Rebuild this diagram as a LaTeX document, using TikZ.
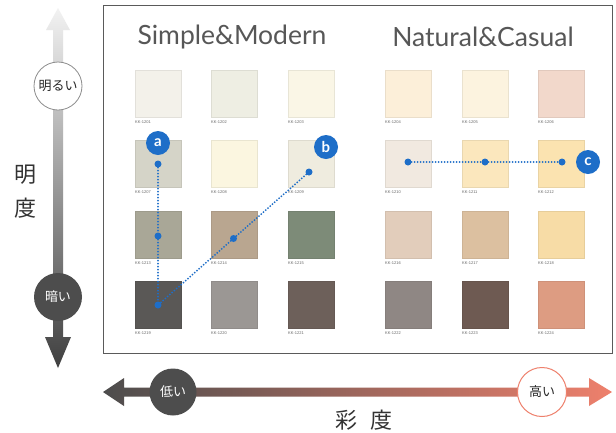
\documentclass[tikz,border=0pt]{standalone}
\usepackage{fontspec}
\setmainfont{Lato}
\newfontfamily\jp{Noto Sans CJK JP}
\newfontfamily\lblfont{Liberation Sans}
\usetikzlibrary{calc}
\definecolor{mblue}{HTML}{1E6EC8}
\definecolor{salmon}{HTML}{EE806C}
\definecolor{darkg}{HTML}{4D4D4D}
\definecolor{framec}{HTML}{5A5A5A}
\definecolor{c1201}{HTML}{F3F1EA}
\definecolor{c1202}{HTML}{EEEEE3}
\definecolor{c1203}{HTML}{FAF6E6}
\definecolor{c1207}{HTML}{D5D4C8}
\definecolor{c1208}{HTML}{FBF6E0}
\definecolor{c1209}{HTML}{EFECDF}
\definecolor{c1213}{HTML}{A9A797}
\definecolor{c1214}{HTML}{B9A690}
\definecolor{c1215}{HTML}{7D8B78}
\definecolor{c1219}{HTML}{5A5856}
\definecolor{c1220}{HTML}{9B9794}
\definecolor{c1221}{HTML}{6D605A}
\definecolor{c1204}{HTML}{FCEFD9}
\definecolor{c1205}{HTML}{FCF3DF}
\definecolor{c1206}{HTML}{F2D8CB}
\definecolor{c1210}{HTML}{F1E9E0}
\definecolor{c1211}{HTML}{FBE7BD}
\definecolor{c1212}{HTML}{FBE3B0}
\definecolor{c1216}{HTML}{E2CDBB}
\definecolor{c1217}{HTML}{DCC0A0}
\definecolor{c1218}{HTML}{F7DCA6}
\definecolor{c1222}{HTML}{8F8784}
\definecolor{c1223}{HTML}{6E5A52}
\definecolor{c1224}{HTML}{DD9C82}
\begin{document}
\begin{tikzpicture}[x=1pt,y=-1pt,
  swatch/.style={anchor=north west, minimum width=46pt, minimum height=47pt, inner sep=0pt, line width=0.4pt},
  lab/.style={anchor=west, inner sep=0pt, text=black!60, font=\lblfont\fontsize{4}{4}\selectfont},
  title/.style={text=black!66, font=\fontsize{26.5}{26.5}\selectfont},
  marker/.style={circle, fill=mblue, text=white, minimum size=24pt, inner sep=0pt, font=\bfseries\fontsize{15}{15}\selectfont},
  dot/.style={circle, fill=mblue, minimum size=7pt, inner sep=0pt},
  dline/.style={draw=mblue, line width=2pt, line cap=round, dash pattern=on 0pt off 3pt},
  axtext/.style={text=black!80, font=\jp\fontsize{22}{22}\selectfont},
  cirtext/.style={circle, inner sep=0pt, font=\jp\fontsize{13}{13}\selectfont}
]
\useasboundingbox (0,0) rectangle (616,432);
\fill[white] (0,0) rectangle (616,432);

% frame
\node[draw=framec, line width=1.2pt, anchor=north west, minimum width=509pt, minimum height=348pt, inner sep=0pt] (frame) at (103,5) {};

% titles
\node[title] (t1) at (232,37) {Simple\&Modern};
\node[title] (t2) at (483,37) {Natural\&Casual};

% swatches
\foreach \x/\y/\n in {135/70/1201, 211/70/1202, 288/70/1203,
                      135/140/1207, 211/140/1208, 288/140/1209,
                      135/211/1213, 211/211/1214, 288/211/1215,
                      135/281/1219, 211/281/1220, 288/281/1221,
                      385/70/1204, 462/70/1205, 538/70/1206,
                      385/140/1210, 462/140/1211, 538/140/1212,
                      385/211/1216, 462/211/1217, 538/211/1218,
                      385/281/1222, 462/281/1223, 538/281/1224}{
  \node[swatch, fill=c\n, draw=c\n!93!black] (s\n) at (\x,\y) {};
  \node[lab] (l\n) at ($(s\n.south west)+(0,5)$) {KK-\n};
}

% markers and dots
\node[dot] (a0) at (158,164) {};
\node[dot] (a1) at (158,236) {};
\node[dot] (a2) at (158,305) {};
\node[dot] (b0) at (309,172) {};
\node[dot] (b1) at (233.5,238.5) {};
\node[dot] (c0) at (408,162) {};
\node[dot] (c1) at (485,162) {};
\node[dot] (c2) at (562,162) {};
\draw[dline] (a0) -- (a1);
\draw[dline] (a1) -- (a2);
\draw[dline] (b0) -- (b1);
\draw[dline] (b1) -- (a2);
\draw[dline] (c0) -- (c1);
\draw[dline] (c1) -- (c2);
\node[marker] (ma) at (158,143) {a};
\node[marker] (mb) at (326,147) {b};
\node[marker] (mc) at (588,162) {c};

% vertical axis
\shade[top color=black!5, middle color=black!45, bottom color=black!75]
  (58,8) -- (70,30) -- (63,30) -- (63,337) -- (71,337) -- (58,368) -- (45,337) -- (53,337) -- (53,30) -- (46,30) -- cycle;
\node[cirtext, draw=black!45, line width=0.8pt, fill=white, text=black!85, minimum size=48pt] (bright) at (58,86) {明るい};
\node[cirtext, fill=darkg, text=white, minimum size=48pt] (dark) at (58,297) {暗い};
\node[axtext] (v1) at (25,175) {明};
\node[axtext] (v2) at (25,208) {度};

% horizontal axis
\shade[left color=black!70, right color=salmon]
  (103,392) -- (124,378) -- (124,387.5) -- (589,387.5) -- (589,378) -- (612,392) -- (589,406) -- (589,396.5) -- (124,396.5) -- (124,406) -- cycle;
\node[cirtext, fill=darkg, text=white, minimum size=47pt] (low) at (173,392) {低い};
\node[cirtext, draw=salmon, line width=1pt, fill=white, text=black!85, minimum size=49pt] (high) at (542,392) {高い};
\node[axtext] (h1) at (346,420) {彩};
\node[axtext] (h2) at (381,420) {度};
\end{tikzpicture}
\end{document}
